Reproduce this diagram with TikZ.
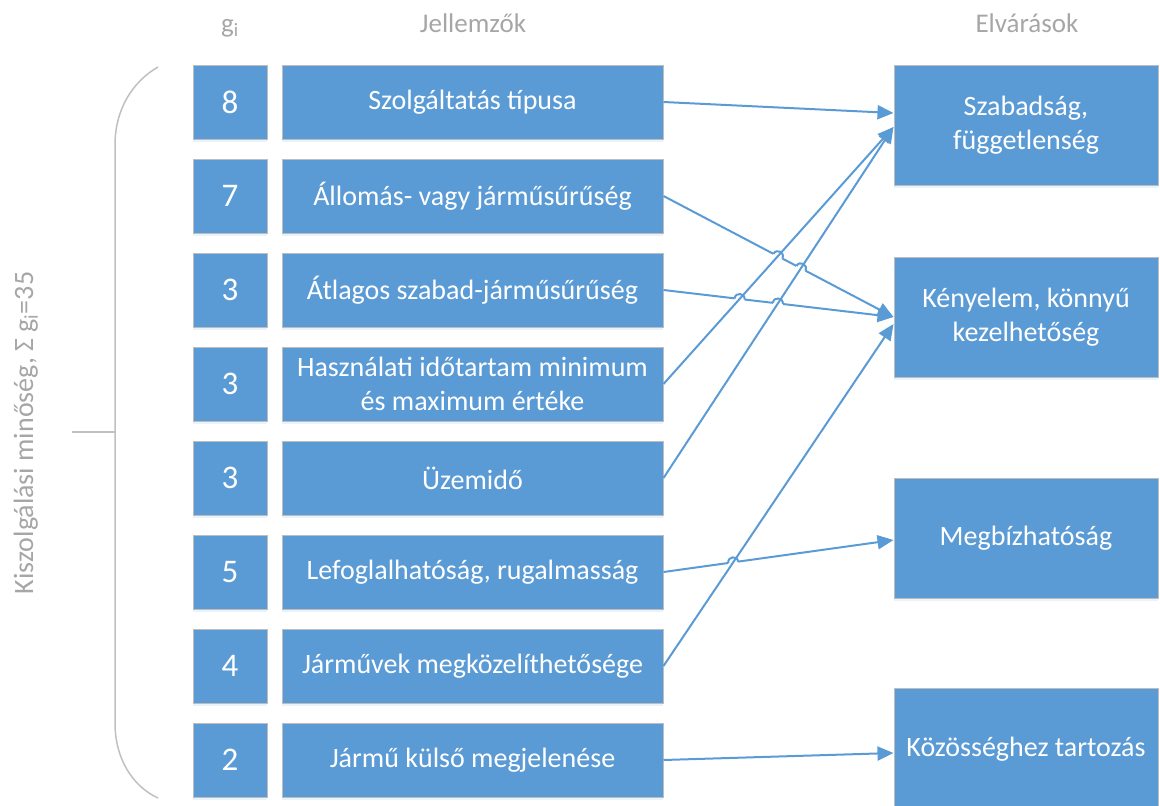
\documentclass[tikz,border=0pt]{standalone}
\usepackage{fontspec}
\setmainfont{Carlito}
\usetikzlibrary{arrows.meta,calc,intersections,shadows}
\definecolor{boxblue}{HTML}{5B9BD5}
\definecolor{hdrgray}{HTML}{A6A6A6}
\definecolor{bracegray}{HTML}{C0C0C0}
\definecolor{edgegray}{HTML}{BDBDBD}
\newcommand\hopat[3]{%
  \draw[white, line width=4.5pt] ($(#1)!5pt!(#2)$) -- ($(#1)!5pt!(#3)$);
  \draw[boxblue, line width=2pt] ($(#1)!5pt!(#2)$) to[bend left=90, looseness=1.7] ($(#1)!5pt!(#3)$);}
\begin{document}
\begin{tikzpicture}[x=1pt,y=-1pt,
  basebox/.style={draw=edgegray, line width=1pt, fill=boxblue, text=white, inner sep=0pt, align=center,
    font=\fontsize{28}{34}\selectfont,
    drop shadow={shadow xshift=0pt, shadow yshift=-3pt, opacity=0.25, fill=boxblue!50}},
  gbox/.style={basebox, minimum width=74pt, minimum height=74pt, font=\fontsize{33}{40}\selectfont},
  fbox/.style={basebox, minimum width=381pt, minimum height=74pt},
  rbox/.style={basebox, minimum width=264pt, minimum height=120pt},
  hdr/.style={text=hdrgray, font=\fontsize{27}{32}\selectfont, anchor=base, inner sep=0pt},
  conn/.style={draw=boxblue, line width=2pt, -{Triangle[length=16pt,width=14pt]}},
  bracestyle/.style={draw=bracegray, line width=1.5pt},
]
\useasboundingbox (0,0) rectangle (1160,806);

% headers
\node[hdr] (hg) at (230,32) {g\textsubscript{i}};
\node[hdr] (hj) at (473,32) {Jellemzők};
\node[hdr] (he) at (1027,32) {Elvárások};
\node[hdr, rotate=90, font=\fontsize{28}{32}\selectfont] (lbl) at (33,433) {Kiszolgálási minőség, Σ g\textsubscript{i}=35};

% brace
\coordinate (bt) at (158,67);
\coordinate (bb) at (158,798);
\coordinate (bm) at (115,432);
\coordinate (bl) at (72,432);
\draw[bracestyle] (bt) .. controls (132,82) and (115,110) .. (115,145) -- (115,723) .. controls (115,758) and (132,786) .. (bb);
\draw[bracestyle] (bl) -- (bm);

% weight boxes
\node[gbox] (g1) at (230,102) {8};
\node[gbox] (g2) at (230,196) {7};
\node[gbox] (g3) at (230,290) {3};
\node[gbox] (g4) at (230,384) {3};
\node[gbox] (g5) at (230,478) {3};
\node[gbox] (g6) at (230,572) {5};
\node[gbox] (g7) at (230,666) {4};
\node[gbox] (g8) at (230,760) {2};

% feature boxes
\node[fbox] (f1) at (472.5,102) {Szolgáltatás típusa};
\node[fbox] (f2) at (472.5,196) {Állomás- vagy járműsűrűség};
\node[fbox] (f3) at (472.5,290) {Átlagos szabad-járműsűrűség};
\node[fbox] (f4) at (472.5,384) {Használati időtartam minimum\\és maximum értéke};
\node[fbox] (f5) at (472.5,478) {Üzemidő};
\node[fbox] (f6) at (472.5,572) {Lefoglalhatóság, rugalmasság};
\node[fbox] (f7) at (472.5,666) {Járművek megközelíthetősége};
\node[fbox] (f8) at (472.5,760) {Jármű külső megjelenése};

% requirement boxes
\node[rbox] (r1) at (1026,125) {Szabadság,\\függetlenség};
\node[rbox] (r2) at (1026,317) {Kényelem, könnyű\\kezelhetőség};
\node[rbox] (r3) at (1026,538) {Megbízhatóság};
\node[rbox, minimum height=122pt] (r4) at (1026,749) {Közösséghez tartozás};

% arrow end points
\coordinate (e1) at ($(r1.west)+(0,-12)$);
\coordinate (e45) at ($(r1.west)+(0,2)$);
\coordinate (e23) at (r2.west);
\coordinate (e7) at ($(r2.west)+(0,7)$);
\coordinate (e6) at ($(r3.west)+(0,2)$);
\coordinate (e8) at ($(r4.west)+(0,4)$);

% named paths for crossings
\path[name path=p2] (f2.east) -- (e23);
\path[name path=p3] (f3.east) -- (e23);
\path[name path=p4] (f4.east) -- (e45);
\path[name path=p5] (f5.east) -- (e45);
\path[name path=p6] (f6.east) -- (e6);
\path[name path=p7] (f7.east) -- (e7);
\path[name intersections={of=p2 and p4, by=x24}];
\path[name intersections={of=p2 and p5, by=x25}];
\path[name intersections={of=p3 and p4, by=x34}];
\path[name intersections={of=p3 and p5, by=x35}];
\path[name intersections={of=p6 and p7, by=x67}];

% connectors that hop
\draw[conn] (f1.east) -- (e1);
\draw[conn] (f2.east) -- (e23);
\draw[conn] (f3.east) -- (e23);
\draw[conn] (f6.east) -- (e6);
\draw[conn] (f8.east) -- (e8);
\hopat{x24}{f2.east}{e23}
\hopat{x25}{f2.east}{e23}
\hopat{x34}{f3.east}{e23}
\hopat{x35}{f3.east}{e23}
\hopat{x67}{f6.east}{e6}

% straight crossing connectors
\draw[conn] (f4.east) -- (e45);
\draw[conn] (f5.east) -- (e45);
\draw[conn] (f7.east) -- (e7);
\end{tikzpicture}
\end{document}
